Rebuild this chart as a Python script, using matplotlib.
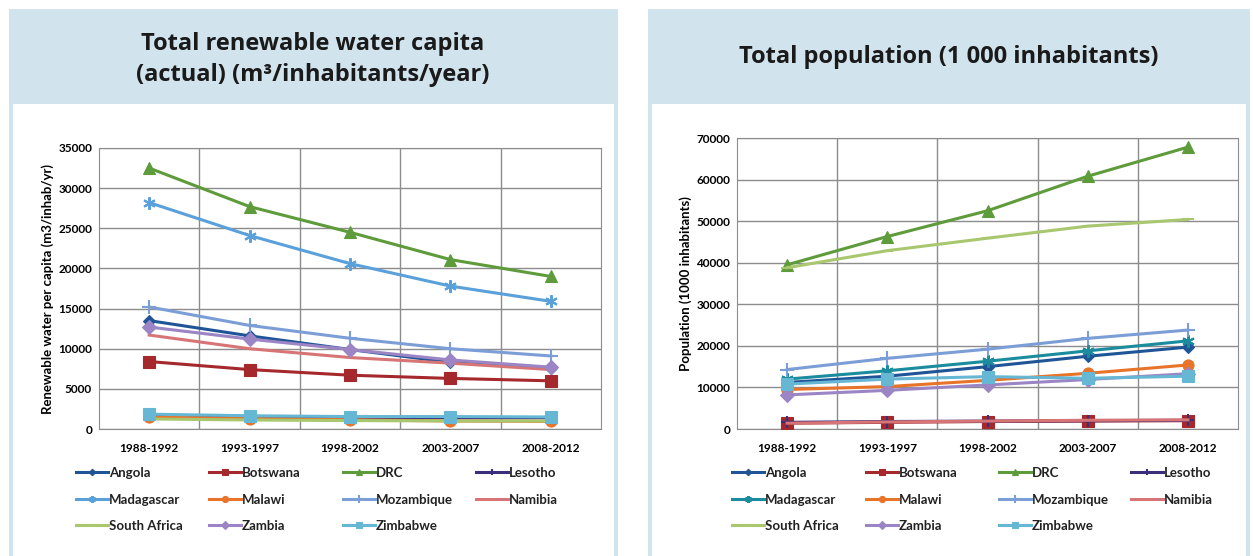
import matplotlib
matplotlib.use("Agg")
import matplotlib.pyplot as plt
from matplotlib.patches import Rectangle

# data
periods = ["1988-1992", "1993-1997", "1998-2002", "2003-2007", "2008-2012"]
countries = ["Angola", "Botswana", "DRC", "Lesotho", "Madagascar", "Malawi",
             "Mozambique", "Namibia", "South Africa", "Zambia", "Zimbabwe"]

# renewable water per capita (m3/inhab/yr)
water_angola = [13500, 11600, 9900, 8300, 7600]
water_botswana = [8400, 7400, 6700, 6300, 6000]
water_drc = [32500, 27700, 24500, 21100, 19000]
water_lesotho = [1700, 1550, 1450, 1400, 1400]
water_madagascar = [28200, 24100, 20600, 17800, 15900]
water_malawi = [1500, 1300, 1150, 1000, 950]
water_mozambique = [15200, 12900, 11300, 10000, 9100]
water_namibia = [11700, 10000, 8900, 8200, 7400]
water_southafrica = [1250, 1120, 1050, 1000, 1000]
water_zambia = [12700, 11200, 9900, 8600, 7700]
water_zimbabwe = [1850, 1650, 1550, 1550, 1500]

# total population (1000 inhabitants)
pop_angola = [11200, 12700, 15000, 17500, 19700]
pop_botswana = [1400, 1600, 1800, 1900, 2000]
pop_drc = [39500, 46300, 52500, 60800, 67800]
pop_lesotho = [1600, 1800, 1900, 2000, 2100]
pop_madagascar = [12000, 14000, 16300, 18800, 21200]
pop_malawi = [9500, 10200, 11700, 13400, 15400]
pop_mozambique = [14300, 17000, 19200, 21800, 23800]
pop_namibia = [1400, 1700, 1900, 2100, 2200]
pop_southafrica = [38800, 42900, 45900, 48800, 50400]
pop_zambia = [8200, 9300, 10600, 11900, 13300]
pop_zimbabwe = [10800, 12000, 12600, 12200, 12700]

water = [water_angola, water_botswana, water_drc, water_lesotho, water_madagascar,
         water_malawi, water_mozambique, water_namibia, water_southafrica,
         water_zambia, water_zimbabwe]
pop = [pop_angola, pop_botswana, pop_drc, pop_lesotho, pop_madagascar,
       pop_malawi, pop_mozambique, pop_namibia, pop_southafrica,
       pop_zambia, pop_zimbabwe]

# styles
colors = ["#1F5597", "#A5282D", "#5E9B3A", "#3B2F7A", "#5AA0DA", "#E8742A",
          "#7C9ED6", "#D77475", "#A9C76E", "#9B85C4", "#66B7D4"]
colors_right = list(colors)
colors_right[4] = "#1A8C9E"
markers = ["D", "s", "^", "+", (6, 2, 0), "o", "+", "", "_", "D", "s"]
msizes = [6, 9, 8, 9, 9, 8, 10, 0, 8, 7, 8]

fig = plt.figure(figsize=(12.53, 5.56), dpi=100)
W, H = 1253, 556

def px_rect(x0, y0, x1, y1, color):
    fig.add_artist(Rectangle((x0 / W, 1 - y1 / H), (x1 - x0) / W, (y1 - y0) / H,
                             transform=fig.transFigure, facecolor=color,
                             edgecolor="none", zorder=0))

band = "#D1E3ED"
for x0, x1 in [(9, 618), (648, 1250)]:
    px_rect(x0, 9, x1, 560, band)
    px_rect(x0 + 4, 104, x1 - 4, 560, "white")

title_kw = dict(ha="center", va="center", fontsize=17, fontweight="bold",
                family="Open Sans", color="#1a1a1a")
fig.text(313 / W, 1 - 44 / H, "Total renewable water capita", **title_kw)
fig.text(313 / W, 1 - 75 / H, "(actual) (m³/inhabitants/year)", **title_kw)
fig.text(949 / W, 1 - 57 / H, "Total population (1 000 inhabitants)", **title_kw)

def draw(ax, series, cols, ymax, ylabel):
    x = list(range(len(periods)))
    handles = []
    for i, name in enumerate(countries):
        mk = markers[i]
        h, = ax.plot(x, series[i], color=cols[i], lw=2.2, marker=mk if mk else None,
                     markersize=msizes[i], markeredgewidth=1.5 if mk in ("+", "_", (6, 2, 0)) else 0.8,
                     markeredgecolor=cols[i], markerfacecolor=cols[i], label=name,
                     zorder=3)
        handles.append(h)
    ax.set_xlim(-0.5, len(periods) - 0.5)
    ax.set_ylim(0, ymax)
    ax.set_xticks(x)
    ax.set_xticklabels(periods)
    ax.set_xticks([v + 0.5 for v in x[:-1]], minor=True)
    ax.grid(True, which="minor", axis="x", color="#8c8c8c", lw=1)
    ax.grid(True, which="major", axis="y", color="#8c8c8c", lw=1)
    ax.tick_params(which="both", length=0)
    ax.tick_params(axis="x", pad=10)
    ax.tick_params(axis="y", pad=5)
    for s in ax.spines.values():
        s.set_color("#8c8c8c")
    for t in ax.get_xticklabels() + ax.get_yticklabels():
        t.set_fontfamily("Lato")
        t.set_fontweight("bold")
        t.set_fontsize(8.5)
    ax.set_ylabel(ylabel, fontfamily="Lato", fontweight="bold", fontsize=9.5, labelpad=3)
    ax.set_axisbelow(True)
    return handles

ax1 = fig.add_axes([99 / W, 1 - 429 / H, 502 / W, 281 / H])
h1 = draw(ax1, water, colors, 35000, "Renewable water per capita (m3/inhab/yr)")
ax1.set_yticks(range(0, 35001, 5000))

ax2 = fig.add_axes([737 / W, 1 - 429 / H, 501 / W, 291 / H])
h2 = draw(ax2, pop, colors_right, 70000, "Population (1000 inhabitants)")
ax2.set_yticks(range(0, 70001, 10000))

def legend_cols(handles, xs):
    for c, xc in enumerate(xs):
        leg = fig.legend(handles[c::4], countries[c::4], loc="upper left",
                         bbox_to_anchor=(xc / W, 1 - 467 / H), frameon=False,
                         prop={"family": "Lato", "size": 9.5, "weight": "bold"},
                         handlelength=2.4, handletextpad=0.1, labelspacing=1.1,
                         borderpad=0, borderaxespad=0, markerscale=0.55)
        for t in leg.get_texts():
            t.set_color("#222222")

legend_cols(h1, [76, 209, 343, 476])
legend_cols(h2, [732, 866, 999, 1131])

fig.savefig("out.png", dpi=100)
